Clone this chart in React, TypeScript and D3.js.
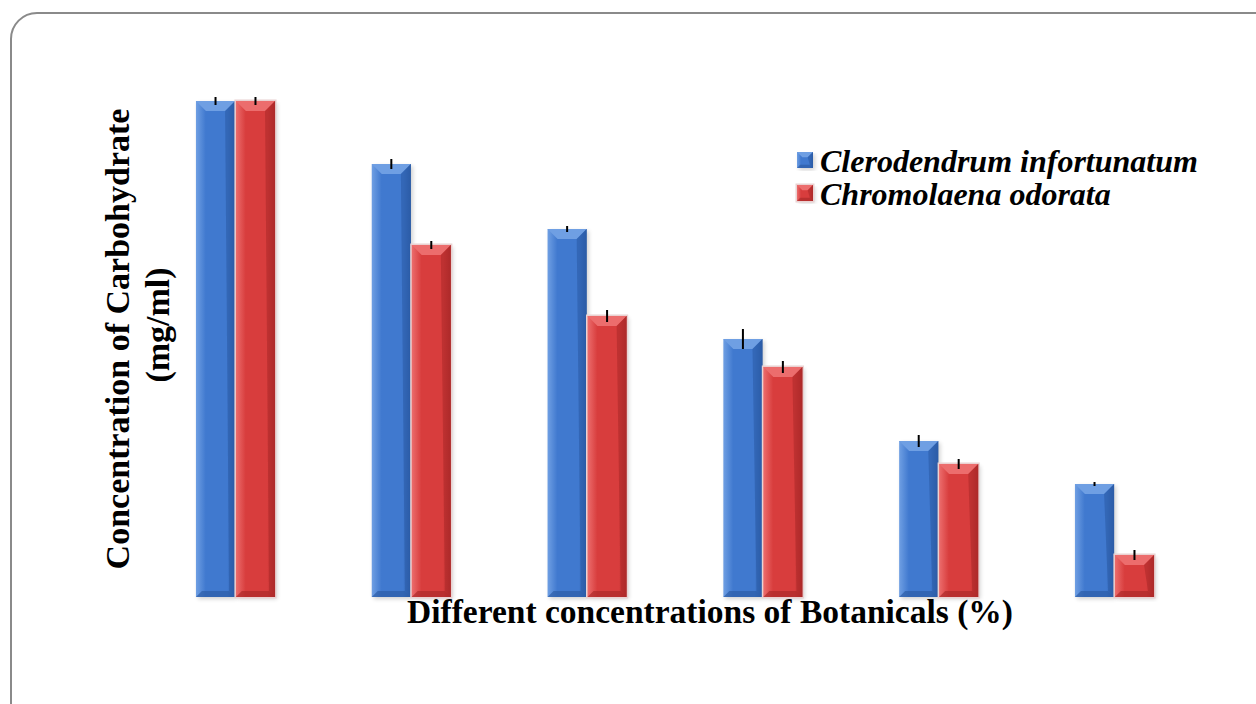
import React, { useRef, useEffect } from 'react';
import * as d3 from 'd3';

const groups = ['0', '1', '2', '3', '4', '5'];
const seriesNames = ['Clerodendrum infortunatum', 'Chromolaena odorata'];
const clerodendrum = [4.96, 4.33, 3.68, 2.58, 1.56, 1.13];
const clerodendrumErr = [0.03, 0.04, 0.02, 0.09, 0.05, 0.01];
const chromolaena = [4.96, 3.52, 2.81, 2.30, 1.33, 0.42];
const chromolaenaErr = [0.03, 0.03, 0.05, 0.05, 0.04, 0.04];

const palettes = [
  { base: '#4079cf', light: '#6f9fe3', dark: '#2c5ca6', edge: 'none' },
  { base: '#d83d3d', light: '#ec6d6d', dark: '#ad2a2a', edge: '#ead2d2' },
];

const W = 1256;
const H = 704;

const App: React.FC = () => {
  const svgRef = useRef<SVGSVGElement | null>(null);

  useEffect(() => {
    if (!svgRef.current) return;
    const svg = d3.select(svgRef.current);
    svg.selectAll('*').remove();

    const defs = svg.append('defs');
    palettes.forEach((p, i) => {
      const gr = defs.append('linearGradient').attr('id', `body${i}`)
        .attr('x1', '0').attr('x2', '1').attr('y1', '0').attr('y2', '0');
      gr.append('stop').attr('offset', '0%').attr('stop-color', p.light);
      gr.append('stop').attr('offset', '25%').attr('stop-color', p.base);
      gr.append('stop').attr('offset', '80%').attr('stop-color', p.base);
      gr.append('stop').attr('offset', '100%').attr('stop-color', p.dark);
    });
    const sh = defs.append('filter').attr('id', 'shadow')
      .attr('x', '-20%').attr('y', '-5%').attr('width', '140%').attr('height', '110%');
    sh.append('feGaussianBlur').attr('stdDeviation', 2);

    // frame
    svg.append('rect')
      .attr('x', 11).attr('y', 13)
      .attr('width', 1270).attr('height', 720)
      .attr('rx', 26).attr('ry', 26)
      .attr('fill', '#fff').attr('stroke', '#8a8a8a').attr('stroke-width', 2);

    const x0 = d3.scaleBand().domain(groups).range([152, 1198]).paddingInner(0.55).paddingOuter(0.25);
    const x1 = d3.scaleBand().domain(seriesNames).range([0, x0.bandwidth()]).paddingInner(0.02);
    const y = d3.scaleLinear().domain([0, 5]).range([597, 97]);

    const series = [
      { name: seriesNames[0], values: clerodendrum, errs: clerodendrumErr },
      { name: seriesNames[1], values: chromolaena, errs: chromolaenaErr },
    ];

    const drawBar = (g: any, x: number, top: number, w: number, bottom: number, i: number) => {
      const p = palettes[i];
      const b = Math.min(10, (bottom - top) / 3);
      g.append('rect').attr('x', x + 2).attr('y', top + 2).attr('width', w).attr('height', bottom - top)
        .attr('fill', '#000').attr('opacity', 0.18).attr('filter', 'url(#shadow)');
      if (p.edge !== 'none') {
        g.append('rect').attr('x', x - 1.5).attr('y', top - 1.5).attr('width', w + 3).attr('height', bottom - top + 3)
          .attr('fill', p.edge);
      }
      g.append('rect').attr('x', x).attr('y', top).attr('width', w).attr('height', bottom - top)
        .attr('fill', `url(#body${i})`);
      g.append('polygon')
        .attr('points', `${x},${top} ${x + w},${top} ${x + w - b},${top + b} ${x + b},${top + b}`)
        .attr('fill', p.light);
      g.append('polygon')
        .attr('points', `${x},${bottom} ${x + w},${bottom} ${x + w - b * 0.6},${bottom - b * 0.6} ${x + b * 0.6},${bottom - b * 0.6}`)
        .attr('fill', p.dark).attr('opacity', 0.7);
      g.append('polygon')
        .attr('points', `${x + w},${top} ${x + w},${bottom} ${x + w - b * 0.6},${bottom - b * 0.6} ${x + w - b},${top + b}`)
        .attr('fill', p.dark).attr('opacity', 0.6);
    };

    const plot = svg.append('g');
    groups.forEach((gName, gi) => {
      series.forEach((s, si) => {
        const bx = (x0(gName) || 0) + (x1(s.name) || 0);
        const w = x1.bandwidth();
        const top = y(s.values[gi]);
        drawBar(plot, bx, top, w, y(0), si);
      });
    });
    groups.forEach((gName, gi) => {
      series.forEach((s) => {
        const cx = (x0(gName) || 0) + (x1(s.name) || 0) + x1.bandwidth() / 2;
        plot.append('line')
          .attr('x1', cx).attr('x2', cx)
          .attr('y1', y(s.values[gi] + s.errs[gi]) - 1)
          .attr('y2', y(s.values[gi] - s.errs[gi]) + 1)
          .attr('stroke', '#000').attr('stroke-width', 2);
      });
    });

    const font = '"Liberation Serif", "Times New Roman", serif';

    // axis titles
    const yt = svg.append('text')
      .attr('transform', 'rotate(-90)')
      .attr('font-family', font).attr('font-weight', 'bold').attr('font-size', 34)
      .attr('text-anchor', 'middle').attr('fill', '#000');
    yt.append('tspan').attr('x', -339).attr('y', 129).text('Concentration of Carbohydrate');
    yt.append('tspan').attr('x', -325).attr('y', 169).text('(mg/ml)');

    svg.append('text')
      .attr('x', 710).attr('y', 623)
      .attr('font-family', font).attr('font-weight', 'bold').attr('font-size', 33.5)
      .attr('text-anchor', 'middle').attr('fill', '#000')
      .text('Different concentrations of Botanicals (%)');

    // legend
    const legend = svg.append('g');
    seriesNames.forEach((name, i) => {
      const ly = 152 + i * 33;
      drawBar(legend, 797, ly, 16, ly + 16, i);
      legend.append('text')
        .attr('x', 820).attr('y', ly + 20)
        .attr('font-family', font).attr('font-weight', 'bold').attr('font-style', 'italic')
        .attr('font-size', 32).attr('fill', '#000')
        .text(name);
    });
  }, []);

  return (
    <div style={{ position: 'absolute', left: 0, top: 0, width: W, height: H, overflow: 'hidden', background: '#fff' }}>
      <svg ref={svgRef} width={W} height={H} style={{ display: 'block' }}></svg>
    </div>
  );
};

export default App;
